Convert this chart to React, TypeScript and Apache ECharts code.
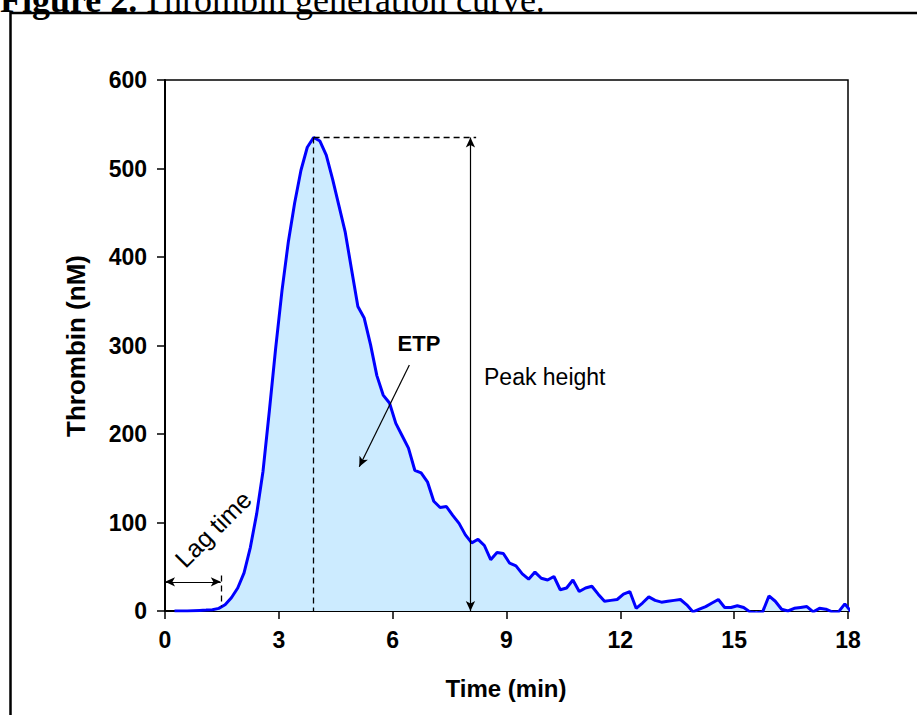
import React, { useEffect, useRef } from "react";
import * as echarts from "echarts";

// Sampling grid of the measurement (minutes): one reading every 10 s
const FIRST_TIME = 0.25;
const SAMPLE_STEP = 1 / 6;

// Thrombin (nM) readings, split by phase
const thrombinLagAndRise = [
  0, 0, 0, 0.4, 0.7, 1, 1.5, 3, 7, 15, 26, 43, 72, 110, 158, 226, 297, 362, 417, 461, 498, 524, 535,
];
const thrombinDecay = [
  531, 515, 488, 458, 428, 386, 344, 331, 301, 266, 244, 235, 212, 198, 184, 159, 156, 146, 124, 117,
  118, 108, 99, 86, 77, 81, 74, 58, 66, 65, 54, 51, 42, 36, 44, 37, 35, 39, 24, 26, 35, 22, 26, 28,
  19, 11, 12, 13, 19, 22, 3, 9, 16, 12,
];
const thrombinTail = [
  10, 11, 12, 13, 7, -1, 2, 5, 9, 13, 4, 4, 6, 4, -1, -2, -1, 17, 11, 2, 0, 3, 4, 5, -1, 3, 2, -1,
  -1, 8, -1,
];

// Axis ranges
const X_MIN = 0, X_MAX = 18, X_STEP = 3;
const Y_MIN = 0, Y_MAX = 600, Y_STEP = 100;

// Annotation values (data units)
const LAG_TIME = 1.47;
const LAG_ARROW_LEVEL = 33;
const LAG_MARK_TOP = 40;
const PEAK_ARROW_TIME = 8.05;
const PEAK_GUIDE_END = 8.2;
const ETP_ARROW_FROM = [6.44, 278];
const ETP_ARROW_TO = [5.12, 163];

const thrombin = [...thrombinLagAndRise, ...thrombinDecay, ...thrombinTail];
const times = thrombin.map((_, i) => FIRST_TIME + i * SAMPLE_STEP);

const SANS = '"Liberation Sans", Arial, sans-serif';
const SERIF = '"Liberation Serif", "Times New Roman", serif';

export default function App() {
  const ref = useRef<HTMLDivElement>(null);

  useEffect(() => {
    if (!ref.current) return;
    const chart = echarts.init(ref.current, undefined, { renderer: "svg" });

    let peakIdx = 0;
    thrombin.forEach((v, i) => {
      if (v > thrombin[peakIdx]) peakIdx = i;
    });
    const peakT = times[peakIdx];
    const peakV = thrombin[peakIdx];
    const lagMarkBottom = 5;

    const dashed = { type: [6, 4] as any, color: "#000", width: 1.3 };
    const solid = { type: "solid" as any, color: "#000", width: 1.2 };

    const option: any = {
      animation: false,
      backgroundColor: "#fff",
      grid: {
        left: 165,
        top: 80,
        width: 683,
        height: 531,
        show: true,
        borderColor: "#000",
        borderWidth: 1.5,
        backgroundColor: "transparent",
      },
      xAxis: {
        type: "value",
        min: X_MIN,
        max: X_MAX,
        interval: X_STEP,
        axisLine: { show: true, onZero: false, lineStyle: { color: "#000", width: 2 } },
        axisTick: { show: true, inside: false, length: 8, lineStyle: { color: "#000", width: 1.5 } },
        axisLabel: {
          margin: 17,
          color: "#000",
          fontFamily: SANS,
          fontWeight: "bold",
          fontSize: 23,
        },
        splitLine: { show: false },
      },
      yAxis: {
        type: "value",
        min: Y_MIN,
        max: Y_MAX,
        interval: Y_STEP,
        axisLine: { show: true, onZero: false, lineStyle: { color: "#000", width: 2 } },
        axisTick: { show: true, inside: false, length: 8, lineStyle: { color: "#000", width: 1.5 } },
        axisLabel: {
          margin: 18,
          color: "#000",
          fontFamily: SANS,
          fontWeight: "bold",
          fontSize: 23,
        },
        splitLine: { show: false },
      },
      series: [
        {
          type: "line",
          data: times.map((t, i) => [t, thrombin[i]]),
          symbol: "none",
          clip: true,
          lineStyle: { color: "#0000ff", width: 3 },
          areaStyle: { color: "#CCEBFF", opacity: 1 },
          z: 2,
          markLine: {
            silent: true,
            animation: false,
            symbol: ["none", "none"],
            symbolSize: 8,
            label: { show: false },
            emphasis: { disabled: true },
            data: [
              [{ coord: [peakT, peakV], lineStyle: dashed }, { coord: [peakT, 0] }],
              [{ coord: [peakT, peakV], lineStyle: dashed }, { coord: [PEAK_GUIDE_END, peakV] }],
              [
                { coord: [PEAK_ARROW_TIME, peakV], symbol: "arrow", symbolSize: [7, 10], lineStyle: solid },
                { coord: [PEAK_ARROW_TIME, 0], symbol: "arrow", symbolSize: [7, 10] },
              ],
              [
                { coord: [X_MIN, LAG_ARROW_LEVEL], symbol: "arrow", symbolSize: [7, 10], lineStyle: solid },
                { coord: [LAG_TIME, LAG_ARROW_LEVEL], symbol: "arrow", symbolSize: [7, 10] },
              ],
              [{ coord: [LAG_TIME, LAG_MARK_TOP], lineStyle: dashed }, { coord: [LAG_TIME, lagMarkBottom] }],
              [
                { coord: ETP_ARROW_FROM, symbol: "none", lineStyle: solid },
                { coord: ETP_ARROW_TO, symbol: "arrow", symbolSize: [7, 10] },
              ],
            ],
          },
        },
      ],
      graphic: [
        {
          type: "rect",
          silent: true,
          shape: { x: 10.5, y: 13, width: 1000, height: 1000 },
          style: { fill: "none", stroke: "#000", lineWidth: 2.5 },
        },
        {
          type: "text",
          x: 0,
          y: 0,
          style: {
            text: "Figure 2.",
            fontFamily: SERIF,
            fontWeight: "bold",
            fontSize: 36,
            fill: "#000",
            align: "left",
            verticalAlign: "middle",
          },
        },
        {
          type: "text",
          x: 142,
          y: 0,
          style: {
            text: "Thrombin generation curve.",
            fontFamily: SERIF,
            fontSize: 36,
            fill: "#000",
            align: "left",
            verticalAlign: "middle",
          },
        },
        {
          type: "text",
          x: 76,
          y: 346,
          rotation: Math.PI / 2,
          style: {
            text: "Thrombin (nM)",
            fontFamily: SANS,
            fontWeight: "bold",
            fontSize: 26,
            fill: "#000",
            align: "center",
            verticalAlign: "middle",
          },
        },
        {
          type: "text",
          x: 506,
          y: 688,
          style: {
            text: "Time (min)",
            fontFamily: SANS,
            fontWeight: "bold",
            fontSize: 24,
            fill: "#000",
            align: "center",
            verticalAlign: "middle",
          },
        },
        {
          type: "text",
          x: 419,
          y: 343,
          style: {
            text: "ETP",
            fontFamily: SANS,
            fontWeight: "bold",
            fontSize: 22,
            fill: "#000",
            align: "center",
            verticalAlign: "middle",
          },
        },
        {
          type: "text",
          x: 484,
          y: 377,
          style: {
            text: "Peak height",
            fontFamily: SANS,
            fontSize: 23,
            fill: "#000",
            align: "left",
            verticalAlign: "middle",
          },
        },
        {
          type: "text",
          x: 213,
          y: 529,
          rotation: Math.PI / 4,
          style: {
            text: "Lag time",
            fontFamily: SANS,
            fontSize: 25,
            fill: "#000",
            align: "center",
            verticalAlign: "middle",
          },
        },
      ],
    };

    chart.setOption(option);
    return () => chart.dispose();
  }, []);

  return (
    <div
      ref={ref}
      style={{ position: "fixed", left: 0, top: 0, width: 917, height: 715, background: "#fff" }}
    />
  );
}
